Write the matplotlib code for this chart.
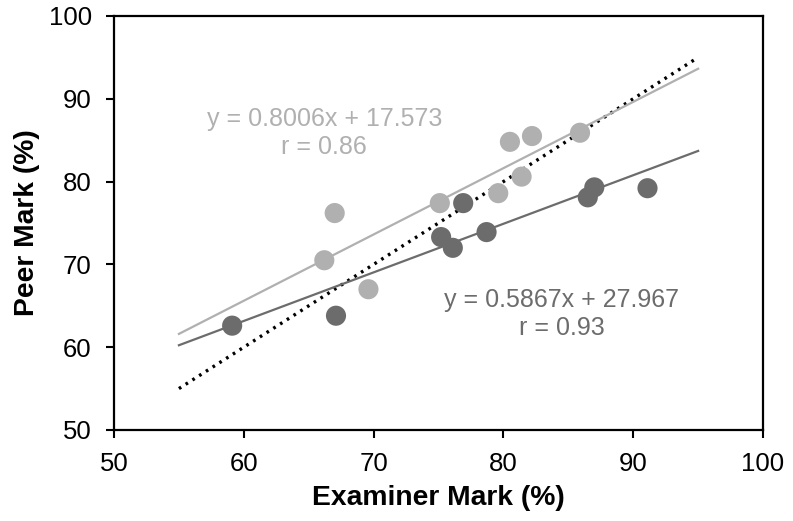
import numpy as np
import matplotlib.pyplot as plt

plt.rcParams['font.family'] = ['Liberation Sans', 'DejaVu Sans']

# light series (peer vs examiner, group 1)
light_x = [67.0, 66.2, 69.6, 75.1, 79.6, 81.4, 80.5, 82.2, 85.9]
light_y = [76.2, 70.5, 67.0, 77.4, 78.6, 80.6, 84.8, 85.5, 85.9]

# dark series (group 2)
dark_x = [59.1, 67.1, 76.9, 75.2, 76.1, 78.7, 86.5, 87.0, 91.1]
dark_y = [62.6, 63.8, 77.4, 73.3, 72.0, 73.9, 78.1, 79.3, 79.2]

light_fit = (0.8006, 17.573)
dark_fit = (0.5867, 27.967)
line_x = np.array([55, 95])

light_col = '#b0b0b0'
dark_col = '#6c6c6c'

fig = plt.figure(figsize=(7.93, 5.21), dpi=100)
ax = fig.add_axes([0.1438, 0.1747, 0.8184, 0.7946])

ax.plot(line_x, line_x, color='black', lw=2.4, linestyle=(0, (0.8, 1.6)), zorder=2)
ax.plot(line_x, light_fit[0] * line_x + light_fit[1], color=light_col, lw=1.6, zorder=3)
ax.plot(line_x, dark_fit[0] * line_x + dark_fit[1], color=dark_col, lw=1.6, zorder=3)

ax.scatter(light_x, light_y, s=210, color=light_col, edgecolors='none', zorder=4)
ax.scatter(dark_x, dark_y, s=210, color=dark_col, edgecolors='none', zorder=4)

ax.text(66.2, 85.9, 'y = 0.8006x + 17.573\nr = 0.86', color=light_col, fontsize=18,
        ha='center', va='center', linespacing=1.2)
ax.text(84.5, 64.0, 'y = 0.5867x + 27.967\nr = 0.93', color=dark_col, fontsize=18,
        ha='center', va='center', linespacing=1.2)

ax.set_xlim(50, 100)
ax.set_ylim(50, 100)
ax.set_xticks(range(50, 101, 10))
ax.set_yticks(range(50, 101, 10))
ax.tick_params(direction='out', length=6, width=1.5, labelsize=18.5, pad=10,
               top=False, right=False)
for sp in ax.spines.values():
    sp.set_linewidth(1.6)

ax.set_xlabel('Examiner Mark (%)', fontsize=20.3, fontweight='bold', labelpad=6)
ax.set_ylabel('Peer Mark (%)', fontsize=20.3, fontweight='bold', labelpad=6)

fig.savefig('out.png', dpi=100)
